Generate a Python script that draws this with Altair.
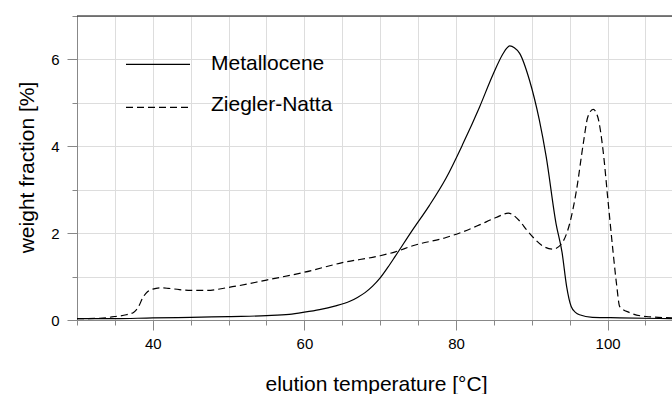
import altair as alt
import pandas as pd

# Elution temperature [°C] and weight fraction [%] for each resin
series_names = ["Metallocene", "Ziegler-Natta"]

temp_metallocene = [30, 35, 40, 45, 50, 55, 58, 60, 62, 64, 66, 67, 68, 69, 70, 71, 72, 74.3,
                    76.5, 78.7, 80.9, 83.1, 84.9, 86.2, 86.7, 87.1, 87.7, 88.4, 89.7, 91, 91.9,
                    93.2, 94, 94.6, 95.2, 95.8, 96.3, 98, 101.6, 108.5]
wf_metallocene = [0.03, 0.03, 0.05, 0.06, 0.08, 0.1, 0.13, 0.18, 0.24, 0.32, 0.43, 0.52, 0.63,
                  0.78, 0.97, 1.21, 1.47, 2.08, 2.64, 3.27, 4.05, 4.9, 5.66, 6.13, 6.26, 6.31,
                  6.27, 6.14, 5.52, 4.6, 3.76, 2.22, 1.55, 0.77, 0.31, 0.17, 0.12, 0.06, 0.05, 0.03]

temp_zn = [30, 33, 35, 36.5, 37.5, 38.1, 38.7, 39.3, 40, 41, 42, 43.5, 45, 47, 50, 55,
           60, 65, 70, 72, 74.3, 78.7, 80.9, 83.1, 85.3, 86.9, 88.4, 89.3, 90.2, 91.5,
           92.8, 93.9, 95, 95.9, 96.8, 97.4, 98.1, 98.7, 99.4, 100.05, 100.7, 101.2,
           101.6, 102.9, 105.1, 108.5]
wf_zn = [0.03, 0.04, 0.08, 0.12, 0.18, 0.3, 0.52, 0.65, 0.71, 0.74, 0.73, 0.7, 0.68,
         0.68, 0.75, 0.92, 1.1, 1.32, 1.48, 1.57, 1.71, 1.9, 2.03, 2.19, 2.36, 2.46,
         2.28, 2.08, 1.9, 1.7, 1.63, 1.75, 2.22, 2.99, 4.07, 4.68, 4.85, 4.68, 3.91,
         2.76, 1.61, 0.8, 0.31, 0.17, 0.08, 0.05]

x_ticks = list(range(30, 110, 5))
y_ticks = list(range(0, 8))

X_MIN, X_MAX = 30, 108.5
Y_MIN, Y_MAX = 0, 7
W, H = 595, 304
FONT = "Liberation Sans"

df = pd.concat([
    pd.DataFrame({"temp": temp_metallocene, "wf": wf_metallocene, "series": series_names[0]}),
    pd.DataFrame({"temp": temp_zn, "wf": wf_zn, "series": series_names[1]}),
])

x_axis = alt.Axis(
    values=x_ticks,
    labelExpr="datum.value % 20 === 0 ? datum.label : ''",
    tickSize={"condition": {"test": "datum.value % 20 === 0", "value": 10}, "value": 5},
    labelPadding=6,
    labelFontSize=15,
    title="elution temperature [°C]",
    titleFontSize=21,
    titleFontWeight="normal",
    titleX=299,
    titleY=70,
    titleAnchor="start",
    titleAlign="center",
    titleBaseline="alphabetic",
)
y_axis = alt.Axis(
    values=y_ticks,
    labelExpr="datum.value % 2 === 0 ? datum.label : ''",
    tickSize={"condition": {"test": "datum.value % 2 === 0", "value": 10}, "value": 5},
    labelPadding=8,
    labelFontSize=15,
    title="weight fraction [%]",
    titleFontSize=21,
    titleFontWeight="normal",
    titleAngle=270,
    titleX=-44,
    titleY=151,
    titleAlign="center",
    titleBaseline="alphabetic",
)

x_enc = alt.X("temp:Q", scale=alt.Scale(domain=[X_MIN, X_MAX], nice=False, zero=False), axis=x_axis)
y_enc = alt.Y("wf:Q", scale=alt.Scale(domain=[Y_MIN, Y_MAX], nice=False), axis=y_axis)

solid = alt.Chart(df[df.series == series_names[0]]).mark_line(
    color="black", strokeWidth=1.2, interpolate="monotone", clip=True
).encode(x=x_enc, y=y_enc)

dashed = alt.Chart(df[df.series == series_names[1]]).mark_line(
    color="black", strokeWidth=1.2, strokeDash=[7, 4], interpolate="monotone", clip=True
).encode(x=x_enc, y=y_enc)

# frame line along the top of the plot area
top_line = alt.Chart().mark_rule(color="black", strokeWidth=1.2).encode(
    x=alt.value(0), x2=alt.value(W), y=alt.value(0)
)

# legend: line samples and names
legend_layers = []
for i, name in enumerate(series_names):
    dash = [] if i == 0 else [7, 4]
    legend_layers.append(
        alt.Chart().mark_rule(color="black", strokeWidth=1.2, strokeDash=dash).encode(
            x=alt.value(49), x2=alt.value(113), y=alt.value(48.3 + 43 * i)
        )
    )
    legend_layers.append(
        alt.Chart().mark_text(
            text=name, font=FONT, fontSize=21, align="left", baseline="alphabetic", color="black"
        ).encode(x=alt.value(134), y=alt.value(54 + 41 * i))
    )

chart = alt.layer(solid, dashed, top_line, *legend_layers).properties(
    width=W, height=H,
    autosize=alt.AutoSizeParams(type="none"),
    padding={"left": 77, "top": 16, "right": 0, "bottom": 74},
).configure_view(stroke=None).configure_axis(
    grid=False,
    domainColor="black",
    domainWidth=1.2,
    tickColor="black",
    tickWidth=1.2,
    labelFont=FONT,
    labelColor="black",
    titleFont=FONT,
    titleColor="black",
).configure(background="white")

chart.save("out.html", embed_options={"renderer": "svg", "actions": False})
